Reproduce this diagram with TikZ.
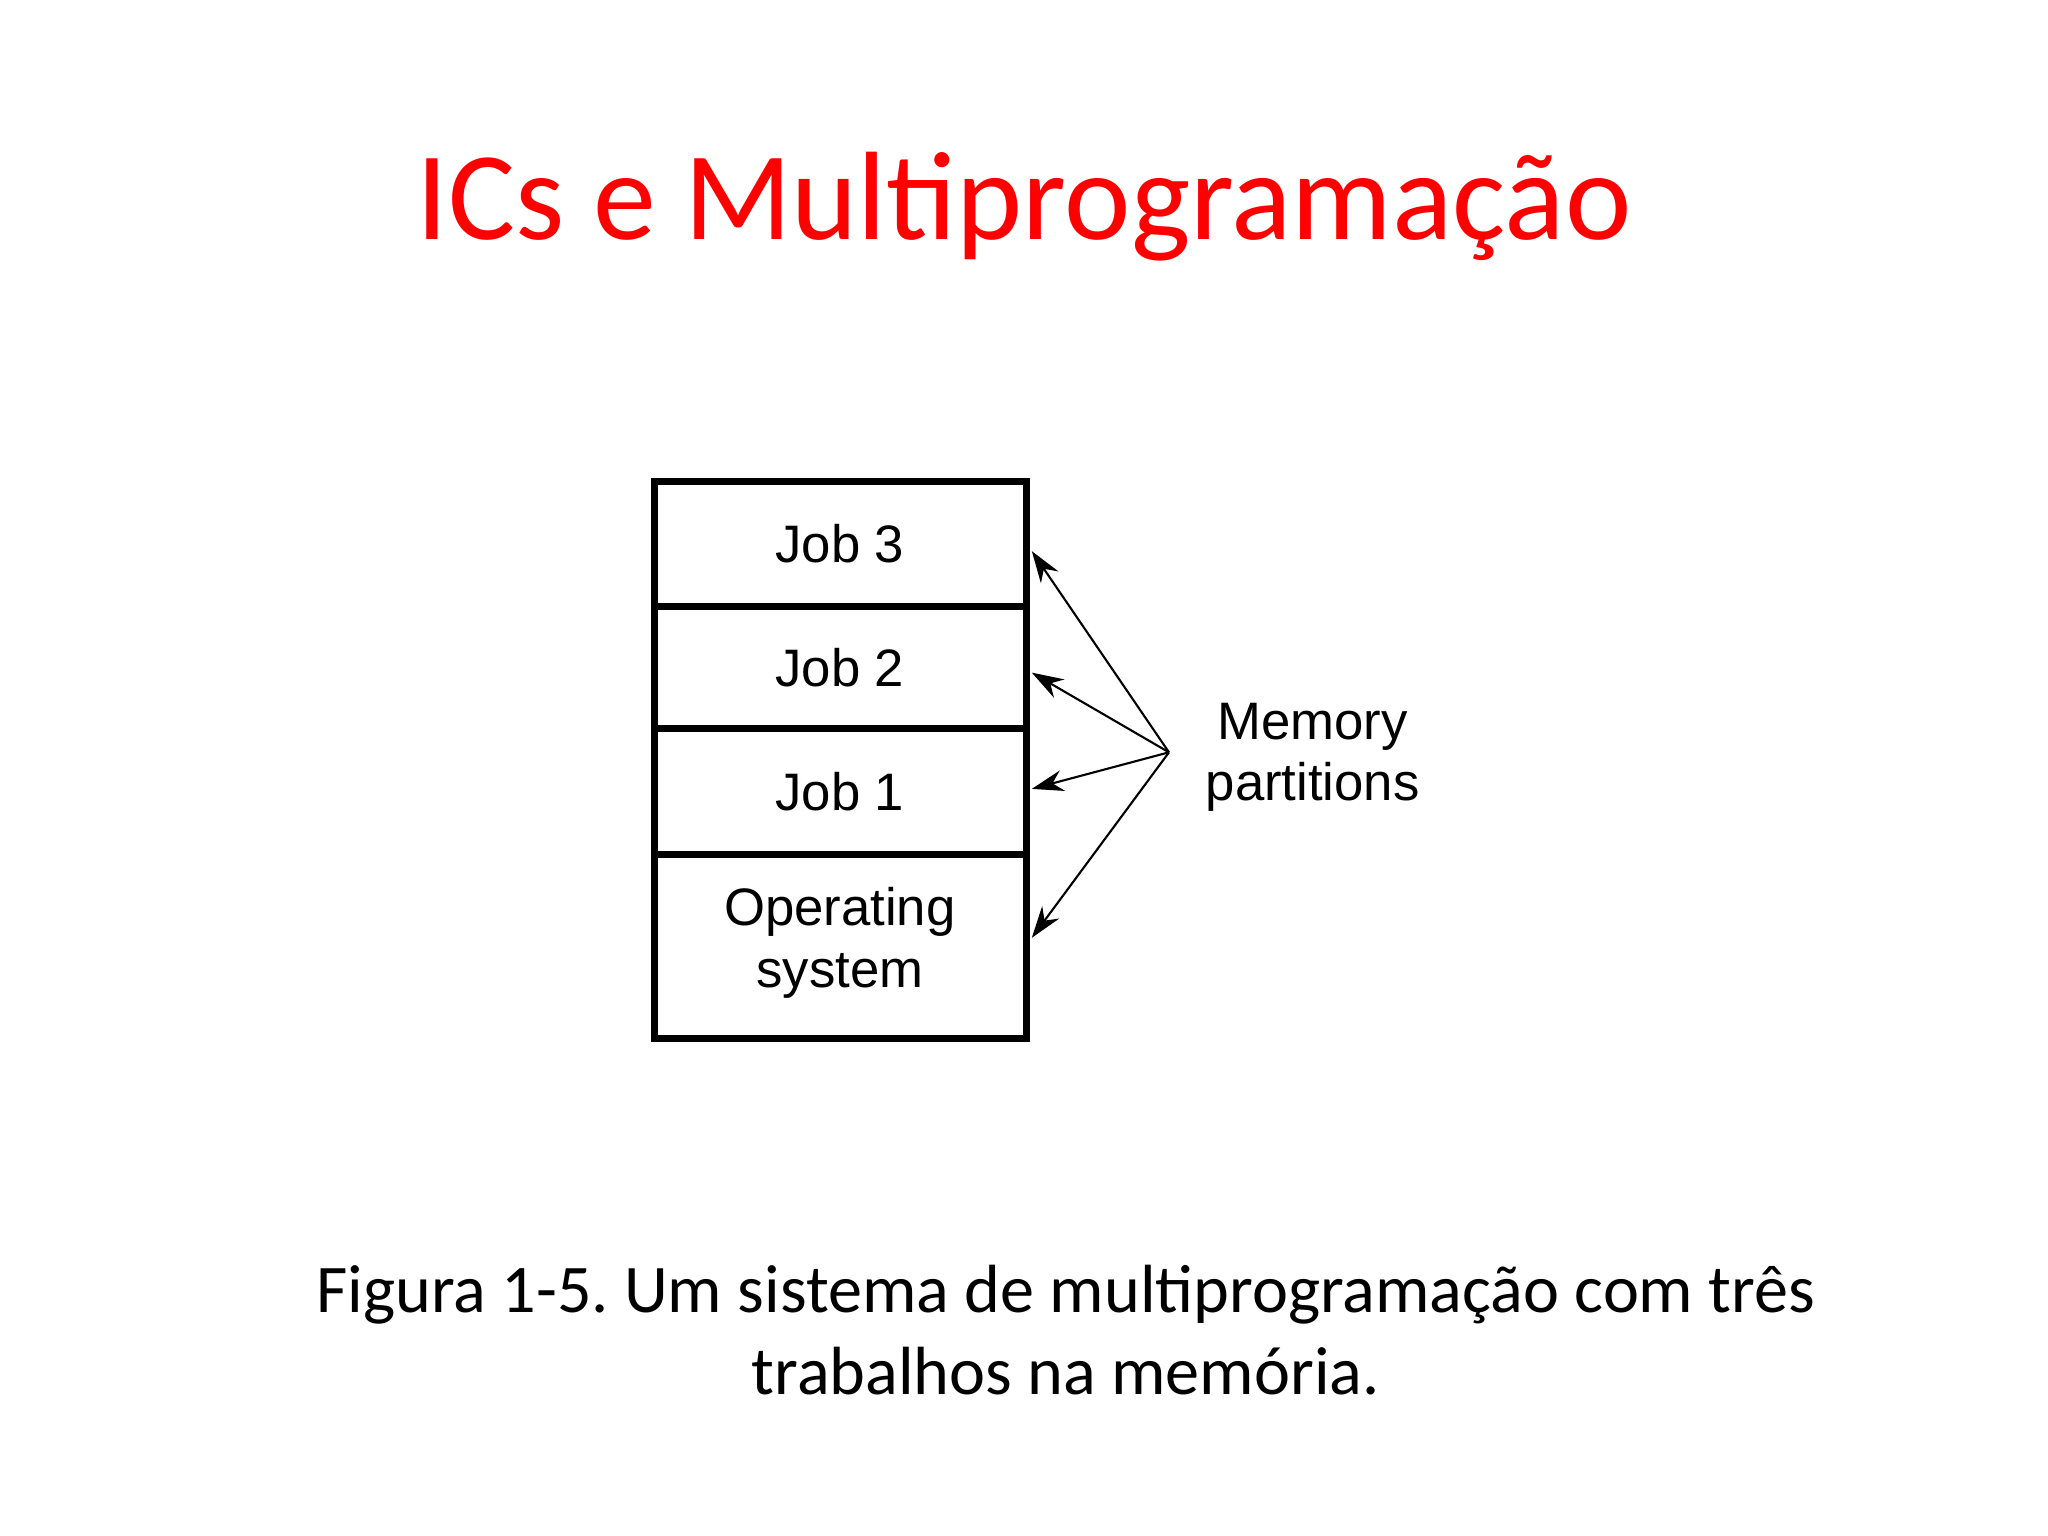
\documentclass[tikz,border=0pt]{standalone}
\usepackage{fontspec}
\setmainfont{Carlito}
\newfontfamily\arial{Liberation Sans}
\usetikzlibrary{arrows.meta}
\frenchspacing
\begin{document}
\begin{tikzpicture}[x=0.013061cm,y=-0.013061cm,
  part/.style={draw,line width=2pt},
  lbl/.style={font=\arial\fontsize{15}{17.5}\selectfont,align=center},
  arr/.style={-{Stealth[length=9pt,width=6pt]},line width=0.6pt}]
\useasboundingbox (0,0) rectangle (1568,1176);
\node[red,font=\fontsize{35.8}{43}\selectfont,anchor=base] (title) at (784,183) {ICs e Multiprogramação};
\draw[part] (501,369) rectangle (786,795);
\draw[part] (501,464) -- (786,464);
\draw[part] (501,558) -- (786,558);
\draw[part] (501,654) -- (786,654);
\node[lbl] (j3) at (643,416) {Job 3};
\node[lbl] (j2) at (643,511) {Job 2};
\node[lbl] (j1) at (643,606) {Job 1};
\node[lbl] (os) at (643,722) {Operating\\system};
\node[lbl] (mp) at (1005,580) {Memory\\partitions};
\coordinate (src) at (895,576);
\coordinate (t3) at (790,422);
\coordinate (t2) at (790,515);
\coordinate (t1) at (790,604);
\coordinate (t0) at (790,718);
\foreach \t in {t3,t2,t1,t0} \draw[arr] (src) -- (\t);
\node[font=\fontsize{19.4}{24}\selectfont,anchor=base] (cap) at (816,1005)
  {Figura 1-5. Um sistema de multiprogramação com três};
\node[font=\fontsize{19.4}{24}\selectfont,anchor=base] (cap2) at (816,1068) {trabalhos na memória.};
\end{tikzpicture}
\end{document}
